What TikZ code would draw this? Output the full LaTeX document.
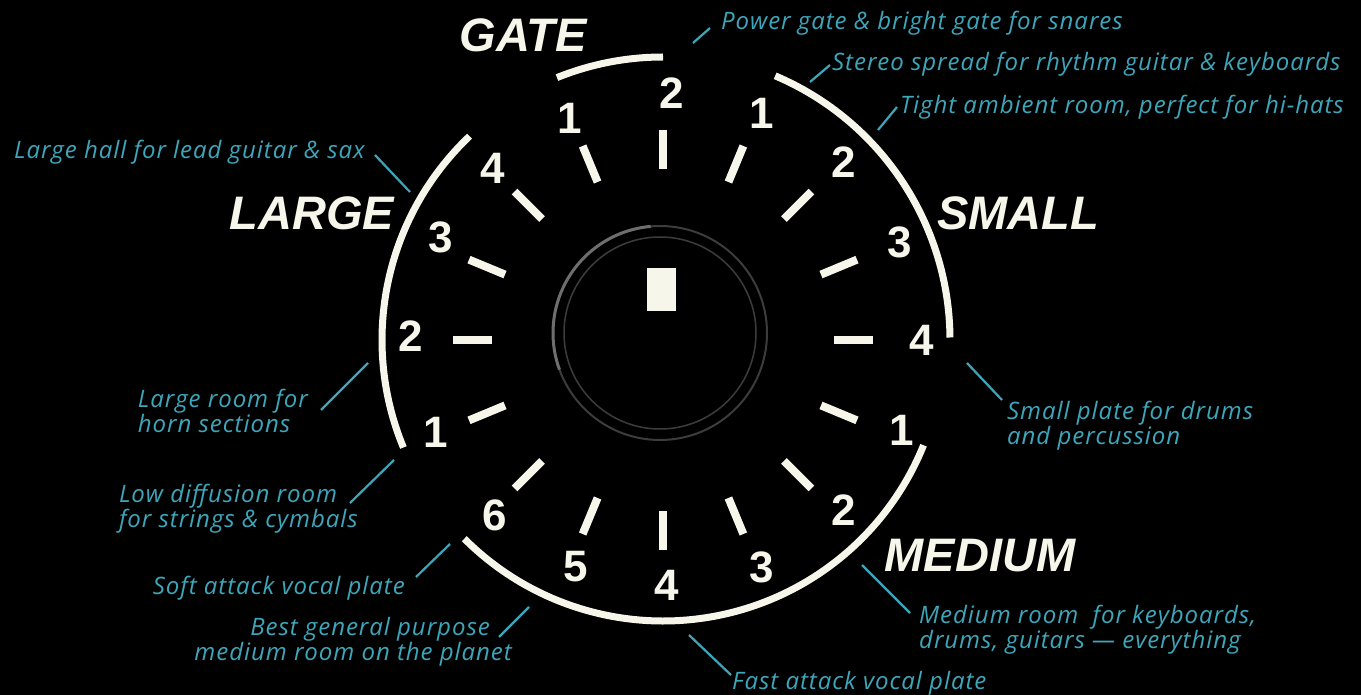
\documentclass[tikz,border=0pt]{standalone}
\usepackage{fontspec}
\setmainfont{Liberation Sans}
\newfontfamily\notefont[LetterSpace=4]{Open Sans}
\usetikzlibrary{calc}
\definecolor{dialwhite}{RGB}{246,246,234}
\definecolor{notecyan}{RGB}{62,166,186}
\definecolor{knobgray}{RGB}{60,60,60}
\definecolor{knobshine}{RGB}{110,110,110}

\begin{document}
\begin{tikzpicture}[x=1pt, y=-1pt,
  num/.style={font=\bfseries\fontsize{44}{44}\selectfont, text=dialwhite, inner sep=0pt},
  zone/.style={font=\bfseries\itshape\fontsize{47}{47}\selectfont, text=dialwhite, inner sep=0pt},
  note/.style={font=\notefont\itshape\fontsize{24}{25}\selectfont, text=notecyan, inner sep=0pt},
  tickmark/.style={draw=dialwhite, line width=8pt},
  band/.style={draw=dialwhite, line width=7pt},
  lead/.style={draw=notecyan, line width=2.2pt}]
  \fill[black] (0,0) rectangle (1361,695);
  \useasboundingbox (0,0) rectangle (1361,695);
  \coordinate (c) at (663,340);

  % knob
  \draw[knobgray, line width=2pt] (660,333) circle[radius=107];
  \draw[knobgray, line width=1.5pt] (660,333) circle[radius=96];
  \draw[knobshine, line width=3pt] (660,333) ++(-95:107) arc[start angle=-95, end angle=-200, radius=107];
  \node[fill=dialwhite, minimum width=29pt, minimum height=43pt, inner sep=0pt] (pointer) at (661,290) {};

  % ticks and scale bands
  \foreach \a in {0,22.5,...,337.5}
    \draw[tickmark] ($(c)+(-\a:171)$) -- ($(c)+(-\a:210)$);
  \draw[band] ($(c)+(-90:283)$) arc[start angle=-90, end angle=-112, radius=283];
  \draw[band] ($(c)+(-133.5:281)$) arc[start angle=-133.5, end angle=-202.5, radius=281];
  \draw[band] ($(c)+(-0.5:287)$) arc[start angle=-0.5, end angle=-67, radius=287];
  \draw[band] ($(c)+(-225:281)$) arc[start angle=-225, end angle=-338, radius=281];

  % numbers
  \foreach \x/\y/\t [count=\i] in {672/93/2, 570/118/1, 493/168/4, 441/237/3,
      411/336/2, 436/432/1, 495/515/6, 576/567/5, 667/585/4, 762/567/3,
      844/510/2, 902/430/1, 922/340/4, 900/242/3, 844/162/2, 762/113/1}
    \node[num] (num-\i) at (\x,\y) {\t};

  % zones
  \node[zone] (gate) at (523,35) {GATE};
  \node[zone] (large) at (312,213) {LARGE};
  \node[zone] (small) at (1018,213) {SMALL};
  \node[zone] (medium) at (980,556) {MEDIUM};

  % notes
  \node[note, anchor=west] (pg) at (721,23) {Power gate \& bright gate for snares};
  \node[note, anchor=west] (ss) at (832,64) {Stereo spread for rhythm guitar \& keyboards};
  \node[note, anchor=west] (tr) at (900,107) {Tight ambient room, perfect for hi-hats};
  \node[note, anchor=east] (lh) at (365,152) {Large hall for lead guitar \& sax};
  \node[note, anchor=east, align=left] (lr) at (308,411) {Large room for\\horn sections};
  \node[note, anchor=east, align=left] (ld) at (358,509) {Low diffusion room\\for strings \& cymbals};
  \node[note, anchor=east] (sa) at (405,588) {Soft attack vocal plate};
  \node[note, anchor=east, align=right] (bg) at (512,642) {Best general purpose\hspace*{22pt}\\medium room on the planet};
  \node[note, anchor=west] (fa) at (732,683) {Fast attack vocal plate};
  \node[note, anchor=west, align=left] (mr) at (919,630) {Medium room~ for keyboards,\\drums, guitars \textemdash{} everything};
  \node[note, anchor=west, align=left] (sp) at (1007,426) {Small plate for drums\\and percussion};

  % leaders
  \coordinate (pg-tip) at (693,43);
  \coordinate (ss-tip) at (810,82);
  \coordinate (tr-tip) at (878,130);
  \coordinate (lh-tip) at (410,192);
  \coordinate (lr-tip) at (368,363);
  \coordinate (ld-tip) at (394,460);
  \coordinate (sa-tip) at (450,544);
  \coordinate (bg-tip) at (529,607);
  \coordinate (fa-tip) at (689,635);
  \coordinate (mr-tip) at (862,565);
  \coordinate (sp-tip) at (967,363);
  \draw[lead] (pg-tip) -- ($(pg.west)+(-11,5)$);
  \draw[lead] (ss-tip) -- ($(ss.west)+(-2,1)$);
  \draw[lead] (tr-tip) -- ($(tr.west)+(-3,0)$);
  \draw[lead] (lh-tip) -- ($(lh.east)+(10,3)$);
  \draw[lead] (lr-tip) -- ($(lr.east)+(13,-1)$);
  \draw[lead] (ld-tip) -- ($(ld.east)+(-8,-6)$);
  \draw[lead] (sa-tip) -- ($(sa.east)+(11,-11)$);
  \draw[lead] (bg-tip) -- ($(bg.east)+(-13,-5)$);
  \draw[lead] (fa-tip) -- ($(fa.west)+(-1,-8)$);
  \draw[lead] (mr-tip) -- ($(mr.west)+(-9,-17)$);
  \draw[lead] (sp-tip) -- ($(sp.west)+(-5,-26)$);
\end{tikzpicture}
\end{document}
